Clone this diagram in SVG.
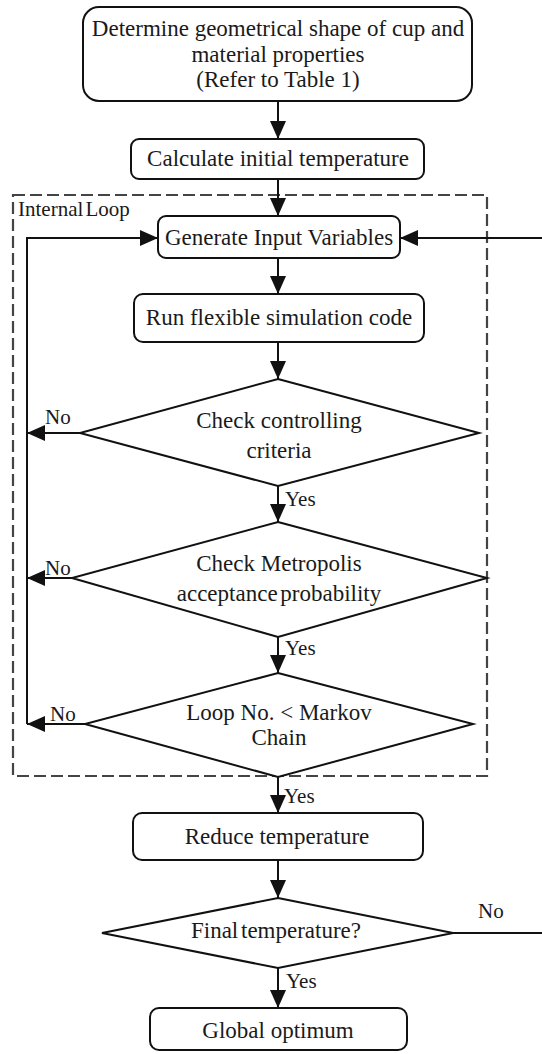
<svg xmlns="http://www.w3.org/2000/svg" width="542" height="1054" viewBox="0 0 542 1054">
<style>
.n{fill:#fff;stroke:#111;stroke-width:2}
.t{font-family:"Liberation Serif","Times New Roman",serif;font-size:23px;fill:#1a1a1a;text-anchor:middle}
.l{font-family:"Liberation Serif","Times New Roman",serif;font-size:21px;fill:#1a1a1a}
.c{fill:none;stroke:#111;stroke-width:2}
</style>
<defs>
<marker id="a" markerUnits="userSpaceOnUse" markerWidth="18" markerHeight="16" refX="18" refY="8" orient="auto">
<path d="M0,0 L18,8 L0,16 Z" fill="#111"/>
</marker>
</defs>
<rect width="542" height="1054" fill="#fff"/>
<g id="internal-loop">
<rect x="13" y="195" width="474" height="581" fill="none" stroke="#444" stroke-width="2.2" stroke-dasharray="12,5"/>
<text class="l" x="18" y="216" font-size="22" word-spacing="-3">Internal Loop</text>
</g>
<g id="connectors">
<line class="c" x1="278" y1="101" x2="278" y2="139" marker-end="url(#a)"/>
<line class="c" x1="278" y1="179" x2="278" y2="216" marker-end="url(#a)"/>
<line class="c" x1="278" y1="258" x2="278" y2="294" marker-end="url(#a)"/>
<line class="c" x1="278" y1="342" x2="278" y2="379" marker-end="url(#a)"/>
<line class="c" x1="278" y1="486" x2="278" y2="522" marker-end="url(#a)"/>
<line class="c" x1="278" y1="637" x2="278" y2="673" marker-end="url(#a)"/>
<line class="c" x1="278" y1="777" x2="278" y2="813" marker-end="url(#a)"/>
<line class="c" x1="278" y1="860" x2="278" y2="898" marker-end="url(#a)"/>
<line class="c" x1="278" y1="968" x2="278" y2="1008" marker-end="url(#a)"/>
<line class="c" x1="80" y1="433" x2="27" y2="433" marker-end="url(#a)"/>
<line class="c" x1="72" y1="578" x2="27" y2="578" marker-end="url(#a)"/>
<line class="c" x1="85" y1="724" x2="27" y2="724" marker-end="url(#a)"/>
<polyline class="c" points="27,724 27,238 158,238" marker-end="url(#a)"/>
<polyline class="c" points="453,933 546,933 546,238 400,238" marker-end="url(#a)"/>
<text class="l" x="45" y="424" font-size="22">No</text>
<text class="l" x="45" y="575" font-size="22">No</text>
<text class="l" x="50" y="721" font-size="22">No</text>
<text class="l" x="478" y="918" font-size="22">No</text>
<text class="l" x="285" y="506">Yes</text>
<text class="l" x="285" y="655">Yes</text>
<text class="l" x="284" y="803">Yes</text>
<text class="l" x="286" y="988">Yes</text>
</g>
<g id="determine">
<rect class="n" x="83" y="7" width="389" height="94" rx="16"/>
<text class="t" x="278" y="36">Determine geometrical shape of cup and</text>
<text class="t" x="278" y="62">material properties</text>
<text class="t" x="278" y="87">(Refer to Table 1)</text>
</g>
<g id="calc">
<rect class="n" x="131" y="139" width="293" height="40" rx="8"/>
<text class="t" x="278" y="166">Calculate initial temperature</text>
</g>
<g id="generate">
<rect class="n" x="158" y="216" width="242" height="42" rx="8"/>
<text class="t" x="279" y="245">Generate Input Variables</text>
</g>
<g id="run">
<rect class="n" x="134" y="294" width="290" height="48" rx="9"/>
<text class="t" x="279" y="325">Run flexible simulation code</text>
</g>
<g id="check-criteria">
<polygon class="n" points="278,379 479,433 278,486 80,433"/>
<text class="t" x="279" y="428">Check controlling</text>
<text class="t" x="279" y="458">criteria</text>
</g>
<g id="check-metropolis">
<polygon class="n" points="278,522 487,578 278,637 72,578"/>
<text class="t" x="279" y="571">Check Metropolis</text>
<text class="t" x="279" y="601" word-spacing="-3">acceptance probability</text>
</g>
<g id="loop-markov">
<polygon class="n" points="278,673 473,724 278,777 85,724"/>
<text class="t" x="279" y="720">Loop No. &lt; Markov</text>
<text class="t" x="279" y="745">Chain</text>
</g>
<g id="reduce">
<rect class="n" x="133" y="813" width="290" height="47" rx="9"/>
<text class="t" x="277" y="844">Reduce temperature</text>
</g>
<g id="final">
<polygon class="n" points="278,898 453,933 278,968 102,933"/>
<text class="t" x="276" y="938" word-spacing="-3">Final temperature?</text>
</g>
<g id="global">
<rect class="n" x="150" y="1008" width="257" height="42" rx="9"/>
<text class="t" x="278" y="1038">Global optimum</text>
</g>
</svg>
